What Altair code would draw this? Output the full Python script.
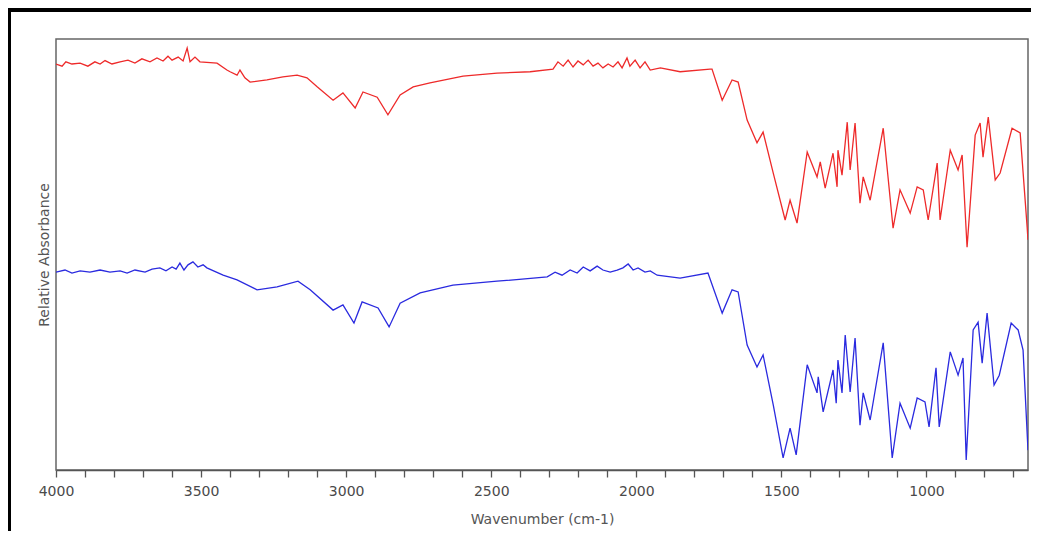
import altair as alt
import pandas as pd

# Red spectrum (upper trace): wavenumber (cm-1) and relative absorbance
red_wn = [4000, 3979, 3966, 3945, 3917, 3890, 3866, 3848, 3831, 3807, 3779, 3752, 3728, 3704,
          3676, 3652, 3631, 3614, 3600, 3579, 3562, 3548, 3538, 3521, 3504, 3445, 3411, 3400,
          3376, 3366, 3349, 3331, 3273, 3218, 3169, 3135, 3100, 3045, 3011, 2969, 2942, 2893,
          2856, 2814, 2769, 2711, 2597, 2480, 2366, 2287, 2270, 2252, 2235, 2218, 2201, 2183,
          2166, 2149, 2132, 2115, 2097, 2080, 2063, 2049, 2032, 2022, 2004, 1987, 1970, 1952,
          1917, 1849, 1746, 1739, 1704, 1670, 1649, 1618, 1584, 1563, 1528, 1487, 1470, 1446,
          1411, 1377, 1366, 1349, 1322, 1308, 1305, 1291, 1273, 1263, 1246, 1229, 1218, 1194,
          1149, 1115, 1091, 1056, 1032, 1011, 994, 963, 953, 918, 891, 877, 860, 832, 815, 805,
          787, 763, 746, 705, 677, 653, 650]
red_val = [94.2, 93.7, 94.7, 94.2, 94.4, 93.7, 94.7, 94.2, 95.0, 94.2, 94.7, 95.1, 94.4, 95.4,
           94.7, 95.6, 94.9, 96.0, 95.1, 95.8, 94.9, 97.9, 94.7, 95.8, 94.7, 94.4, 92.8, 92.4,
           91.6, 92.8, 91.0, 90.0, 90.5, 91.2, 91.6, 91.0, 88.9, 85.8, 87.5, 84.0, 87.7, 86.5,
           82.4, 87.0, 88.9, 89.8, 91.4, 92.1, 92.4, 93.0, 94.7, 93.7, 95.1, 93.5, 94.9, 94.0,
           95.1, 93.7, 94.4, 93.3, 94.2, 93.5, 94.7, 93.3, 95.6, 93.7, 95.1, 93.3, 94.7, 92.8,
           93.3, 92.4, 93.0, 93.0, 85.8, 90.5, 90.0, 81.2, 75.9, 78.4, 68.9, 58.0, 62.6, 57.3,
           73.8, 68.0, 71.5, 65.4, 73.5, 65.7, 74.2, 68.4, 80.7, 69.6, 80.5, 61.9, 68.0, 62.6,
           79.3, 56.1, 65.0, 59.6, 65.7, 65.0, 58.0, 71.2, 58.0, 74.2, 69.6, 73.1, 51.7, 77.7,
           80.5, 72.6, 81.9, 67.3, 68.9, 79.3, 78.2, 56.4, 53.4]

# Blue spectrum (lower trace)
blue_wn = [4000, 3969, 3945, 3917, 3883, 3848, 3814, 3779, 3755, 3728, 3693, 3669, 3642, 3621,
           3600, 3586, 3573, 3559, 3545, 3528, 3511, 3493, 3480, 3424, 3376, 3307, 3238, 3166,
           3124, 3045, 3011, 2973, 2945, 2890, 2852, 2814, 2745, 2632, 2480, 2307, 2280, 2256,
           2228, 2204, 2183, 2159, 2135, 2115, 2090, 2066, 2046, 2028, 2011, 1994, 1970, 1952,
           1928, 1849, 1753, 1704, 1670, 1649, 1618, 1584, 1563, 1528, 1494, 1470, 1449, 1411,
           1377, 1373, 1356, 1322, 1311, 1305, 1291, 1280, 1263, 1246, 1229, 1218, 1194, 1149,
           1118, 1091, 1056, 1032, 1005, 991, 967, 956, 918, 891, 874, 863, 839, 822, 808, 791,
           767, 749, 708, 684, 667, 650]
blue_val = [45.9, 46.4, 45.7, 46.2, 45.9, 46.4, 45.9, 46.2, 45.7, 46.4, 45.9, 46.6, 46.9, 46.2,
            47.1, 46.6, 48.0, 46.4, 47.6, 48.3, 47.1, 47.6, 46.9, 45.2, 44.1, 41.8, 42.5, 43.8,
            41.8, 37.1, 38.3, 34.1, 39.0, 37.6, 33.2, 38.7, 41.1, 42.9, 43.8, 44.8, 45.9, 45.2,
            46.4, 45.7, 47.1, 46.2, 47.3, 46.4, 45.9, 46.4, 46.9, 47.8, 46.4, 46.9, 45.9, 46.2,
            45.2, 44.5, 45.7, 36.4, 41.8, 41.3, 29.0, 23.9, 26.7, 15.1, 2.8, 9.7, 3.5, 24.4,
            17.9, 21.6, 13.5, 23.2, 15.5, 25.5, 17.9, 31.3, 18.1, 30.6, 10.4, 17.9, 11.6, 29.5,
            2.8, 15.5, 9.7, 16.7, 15.8, 10.0, 23.7, 10.0, 27.4, 22.0, 26.0, 2.3, 32.5, 34.3, 24.8, 36.4,
            19.7, 22.0, 34.1, 32.5, 27.8, 4.6]

tick_values = list(range(700, 4001, 100))
x_title = "Wavenumber (cm-1)"
y_title = "Relative Absorbance"

df = pd.concat([
    pd.DataFrame({"wn": red_wn, "val": red_val, "series": "red", "order": range(len(red_wn))}),
    pd.DataFrame({"wn": blue_wn, "val": blue_val, "series": "blue", "order": range(len(blue_wn))}),
])

FONT = "DejaVu Sans"

x_enc = alt.X(
    "wn:Q",
    scale=alt.Scale(domain=[4000, 650], nice=False, zero=False),
    axis=alt.Axis(
        title=x_title, values=tick_values,
        labelExpr="datum.value % 500 === 0 ? datum.value : ''",
        labelFlush=False, labelFont=FONT, labelFontSize=14, labelColor="#4a4a4a",
        titleFont=FONT, titleFontSize=14, titleColor="#555", titleFontWeight="normal",
        titlePadding=14, grid=False, domainColor="#555", domainWidth=1.5,
        tickColor="#555", tickWidth=1.3, tickSize=7, labelPadding=7,
    ),
)
y_enc = alt.Y(
    "val:Q",
    scale=alt.Scale(domain=[0, 100], nice=False),
    axis=alt.Axis(
        title=y_title, labels=False, ticks=False, domain=False, grid=False,
        titleFont=FONT, titleFontSize=14, titleColor="#555",
        titleFontWeight="normal", titlePadding=5,
    ),
)

lines = alt.Chart(df).mark_line(strokeWidth=1.3, clip=True).encode(
    x=x_enc, y=y_enc,
    order="order:Q",
    detail="series:N",
    color=alt.Color("series:N", scale=alt.Scale(domain=["red", "blue"], range=["#ee2a2a", "#2a2adf"]), legend=None),
)

frame_top = alt.Chart(df).mark_rule(color="black", strokeWidth=4).encode(
    x=alt.value(-48), x2=alt.value(980), y=alt.value(-29)
)
frame_left = alt.Chart(df).mark_rule(color="black", strokeWidth=4).encode(
    x=alt.value(-47), y=alt.value(-31), y2=alt.value(600)
)

chart = alt.layer(lines, frame_top, frame_left).properties(
    width=972, height=431,
    autosize=alt.AutoSizeParams(type="none"),
    padding={"left": 48, "top": 31, "right": 3, "bottom": 61},
    background="white",
).configure_view(stroke="#666", strokeWidth=1.5)

chart.save("out.html", embed_options={"renderer": "svg", "actions": False})
